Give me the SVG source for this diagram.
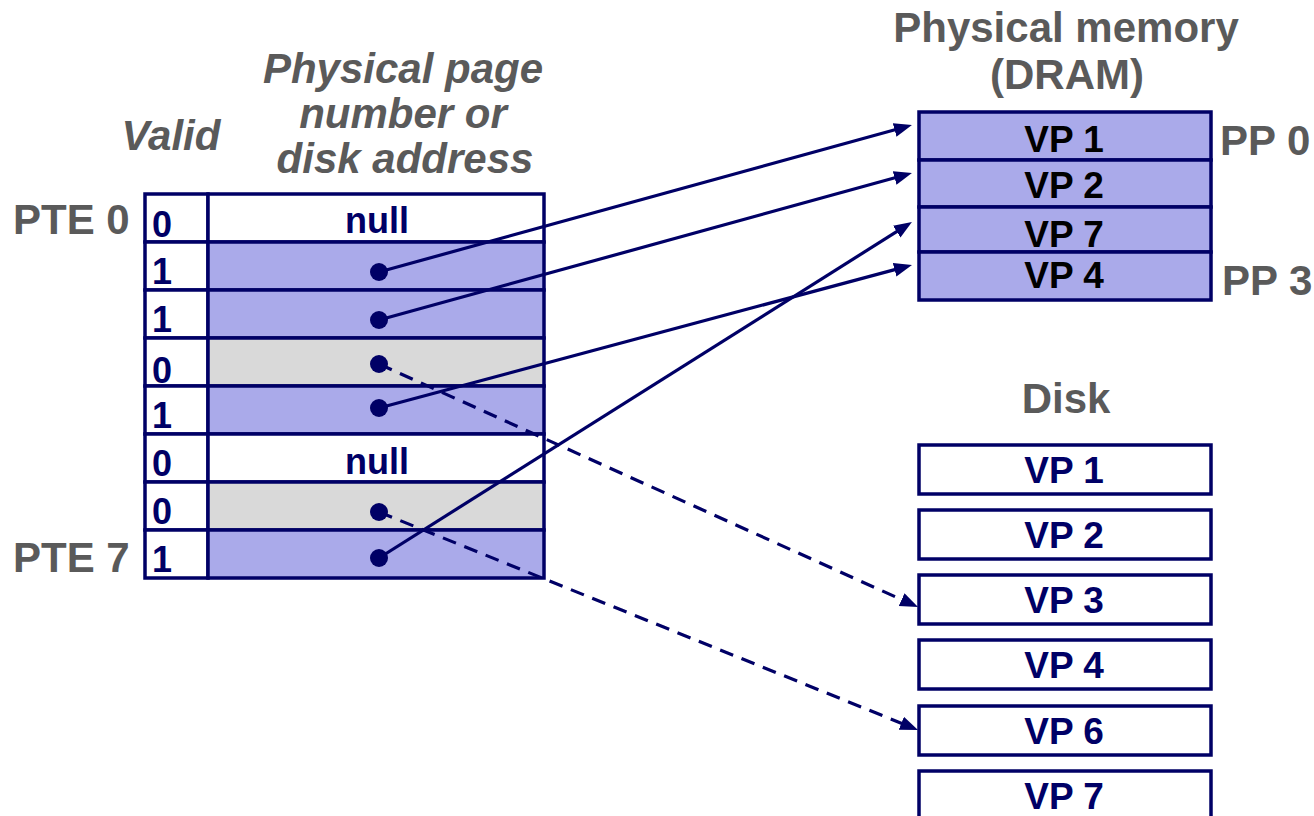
<svg xmlns="http://www.w3.org/2000/svg" width="1314" height="816" viewBox="0 0 1314 816">
<defs>
<style>
.lbl{font-family:"Liberation Sans",Arial,sans-serif;font-weight:bold;font-size:42px;fill:#5a5a5a}
.hdr{font-family:"Liberation Sans",Arial,sans-serif;font-weight:bold;font-style:italic;font-size:42px;fill:#5a5a5a;text-anchor:middle}
.cell{stroke:#000066;stroke-width:3.5}
.vf{fill:#aaaaea}
.gf{fill:#d9d9d9}
.wf{fill:#ffffff}
.dig{font-family:"Liberation Sans",Arial,sans-serif;font-weight:bold;font-size:36px;fill:#000066}
.nul{font-family:"Liberation Sans",Arial,sans-serif;font-weight:bold;font-size:36px;fill:#000066;text-anchor:middle}
.vp{font-family:"Liberation Sans",Arial,sans-serif;font-weight:bold;font-size:37px;fill:#000000;text-anchor:middle}
.dvp{font-family:"Liberation Sans",Arial,sans-serif;font-weight:bold;font-size:37px;fill:#000066;text-anchor:middle}
.dot{fill:#000066}
.ln{stroke:#000066;stroke-width:3.2;fill:none}
.dash{stroke-dasharray:14 9}
</style>
<marker id="ah" markerUnits="userSpaceOnUse" markerWidth="20" markerHeight="16" refX="6" refY="7" orient="auto">
<path d="M0,0 L18,7 L0,14 z" fill="#000066"/>
</marker>
</defs>
<rect width="1314" height="816" fill="#ffffff"/>

<!-- headings -->
<text class="hdr" x="171" y="150">Valid</text>
<text class="hdr" x="403" y="83">Physical page</text>
<text class="hdr" x="403" y="128">number or</text>
<text class="hdr" x="405" y="173">disk address</text>
<text class="lbl" x="1066" y="42" text-anchor="middle">Physical memory</text>
<text class="lbl" x="1067" y="89" text-anchor="middle">(DRAM)</text>
<text class="lbl" x="1066" y="413" text-anchor="middle">Disk</text>
<text class="lbl" x="1220" y="155">PP 0</text>
<text class="lbl" x="1222" y="295">PP 3</text>
<text class="lbl" x="13" y="234">PTE 0</text>
<text class="lbl" x="13" y="572">PTE 7</text>

<!-- page table -->
<g id="pte0"><rect class="cell wf" x="145" y="194" width="63" height="48"/><rect class="cell wf" x="208" y="194" width="336" height="48"/><text class="dig" x="152" y="237">0</text><text class="nul" x="377" y="233">null</text></g>
<g id="pte1"><rect class="cell wf" x="145" y="242" width="63" height="48"/><rect class="cell vf" x="208" y="242" width="336" height="48"/><text class="dig" x="152" y="284">1</text><circle class="dot" cx="379" cy="272" r="9"/></g>
<g id="pte2"><rect class="cell wf" x="145" y="290" width="63" height="48"/><rect class="cell vf" x="208" y="290" width="336" height="48"/><text class="dig" x="152" y="332">1</text><circle class="dot" cx="379" cy="320" r="9"/></g>
<g id="pte3"><rect class="cell wf" x="145" y="338" width="63" height="48"/><rect class="cell gf" x="208" y="338" width="336" height="48"/><text class="dig" x="152" y="383">0</text><circle class="dot" cx="379" cy="364" r="9"/></g>
<g id="pte4"><rect class="cell wf" x="145" y="386" width="63" height="48"/><rect class="cell vf" x="208" y="386" width="336" height="48"/><text class="dig" x="152" y="428">1</text><circle class="dot" cx="379" cy="408" r="9"/></g>
<g id="pte5"><rect class="cell wf" x="145" y="434" width="63" height="48"/><rect class="cell wf" x="208" y="434" width="336" height="48"/><text class="dig" x="152" y="476">0</text><text class="nul" x="377" y="474">null</text></g>
<g id="pte6"><rect class="cell wf" x="145" y="482" width="63" height="48"/><rect class="cell gf" x="208" y="482" width="336" height="48"/><text class="dig" x="152" y="524">0</text><circle class="dot" cx="379" cy="512" r="9"/></g>
<g id="pte7"><rect class="cell wf" x="145" y="530" width="63" height="48"/><rect class="cell vf" x="208" y="530" width="336" height="48"/><text class="dig" x="152" y="572">1</text><circle class="dot" cx="379" cy="558" r="9"/></g>

<!-- physical memory -->
<g id="pp0"><rect class="cell vf" x="919" y="112" width="292" height="48"/><text class="vp" x="1064" y="152">VP 1</text></g>
<g id="pp1"><rect class="cell vf" x="919" y="160" width="292" height="47"/><text class="vp" x="1064" y="198">VP 2</text></g>
<g id="pp2"><rect class="cell vf" x="919" y="207" width="292" height="45"/><text class="vp" x="1064" y="247">VP 7</text></g>
<g id="pp3"><rect class="cell vf" x="919" y="252" width="292" height="48"/><text class="vp" x="1064" y="288">VP 4</text></g>

<!-- disk -->
<g id="disk1"><rect class="cell wf" x="919" y="445" width="292" height="49"/><text class="dvp" x="1064" y="483">VP 1</text></g>
<g id="disk2"><rect class="cell wf" x="919" y="510" width="292" height="49"/><text class="dvp" x="1064" y="548">VP 2</text></g>
<g id="disk3"><rect class="cell wf" x="919" y="575" width="292" height="49"/><text class="dvp" x="1064" y="613">VP 3</text></g>
<g id="disk4"><rect class="cell wf" x="919" y="640" width="292" height="49"/><text class="dvp" x="1064" y="678">VP 4</text></g>
<g id="disk6"><rect class="cell wf" x="919" y="706" width="292" height="49"/><text class="dvp" x="1064" y="744">VP 6</text></g>
<g id="disk7"><rect class="cell wf" x="919" y="771" width="292" height="49"/><text class="dvp" x="1064" y="809">VP 7</text></g>

<!-- connectors -->
<g id="connectors">
<line class="ln" x1="379" y1="272" x2="900.4" y2="128.3" marker-end="url(#ah)"/>
<line class="ln" x1="379" y1="320" x2="900.4" y2="176.3" marker-end="url(#ah)"/>
<line class="ln" x1="379" y1="408" x2="900.4" y2="268.1" marker-end="url(#ah)"/>
<line class="ln" x1="379" y1="558" x2="901.8" y2="228.4" marker-end="url(#ah)"/>
<line class="ln dash" x1="379" y1="364" x2="907.1" y2="602.1" marker-end="url(#ah)"/>
<line class="ln dash" x1="379" y1="512" x2="906.9" y2="725.5" marker-end="url(#ah)"/>
</g>
</svg>
